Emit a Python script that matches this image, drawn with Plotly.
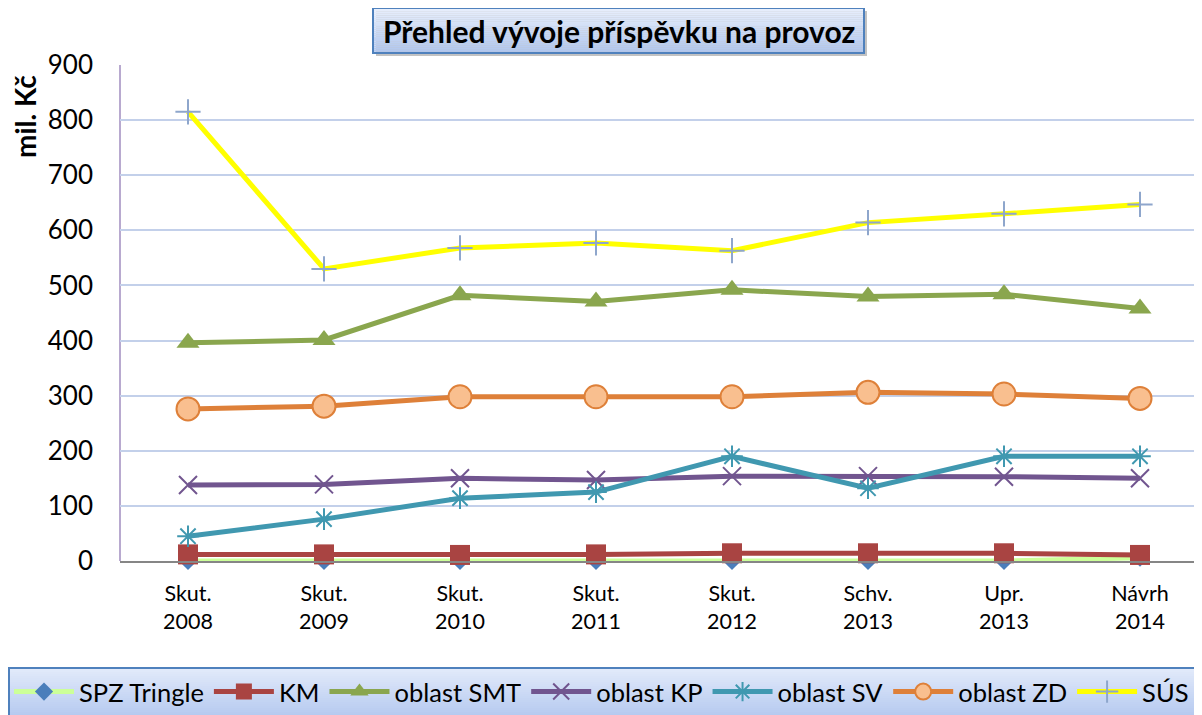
import plotly.graph_objects as go

categories = ["Skut.<br>2008", "Skut.<br>2009", "Skut.<br>2010", "Skut.<br>2011",
              "Skut.<br>2012", "Schv.<br>2013", "Upr.<br>2013", "Návrh<br>2014"]

spz_tringle = [0, 0, 0, 0, 0, 0, 0, 6]
km = [12, 12, 11, 12, 14, 14, 14, 11]
oblast_smt = [396, 401, 482, 471, 492, 480, 484, 458]
oblast_kp = [138, 139, 150, 147, 154, 154, 153, 150]
oblast_sv = [45, 76, 114, 125, 190, 132, 190, 190]
oblast_zd = [276, 281, 298, 298, 298, 306, 303, 295]
sus = [815, 530, 568, 577, 563, 614, 630, 647]

y_ticks = [0, 100, 200, 300, 400, 500, 600, 700, 800, 900]

FONT = "Lato"
OFF = 8  # page body margin offset
W, H = 1202 - OFF, 715 - OFF
L, R, T = 120 - OFF, 0, 65 - OFF
B = H - (561 - OFF)
PW, PH = W - L - R, H - T - B


def px2paper_x(px):
    return (px - OFF - L) / PW


def px2paper_y(py):
    return (H - B - (py - OFF)) / PH


xs = list(range(len(categories)))

fig = go.Figure()

series = [
    ("SPZ Tringle", spz_tringle, dict(color="#CCFF99", width=5),
     dict(symbol="diamond", size=14, color="#4A7EBB", line=dict(width=0))),
    ("KM", km, dict(color="#A94442", width=5),
     dict(symbol="square", size=20, color="#A94442", line=dict(width=0))),
    ("oblast SMT", oblast_smt, dict(color="#8AA64E", width=5),
     dict(symbol="triangle-up", size=20, color="#8AA64E", line=dict(width=0))),
    ("oblast KP", oblast_kp, dict(color="#71558F", width=5),
     dict(symbol="x-thin", size=18, color="#71558F", line=dict(width=2, color="#71558F"))),
    ("oblast SV", oblast_sv, dict(color="#4098B0", width=5),
     dict(symbol="asterisk", size=18, color="#4098B0", line=dict(width=2, color="#4098B0"))),
    ("oblast ZD", oblast_zd, dict(color="#DE8039", width=5),
     dict(symbol="circle", size=23, color="#F9BF8F", line=dict(width=2, color="#DE8039"))),
    ("SÚS", sus, dict(color="#FFFF00", width=5),
     dict(symbol="cross-thin", size=18, color="#8EA6CC", line=dict(width=2, color="#8EA6CC"))),
]

for name, vals, line, marker in series:
    fig.add_trace(go.Scatter(
        x=xs, y=vals, name=name, mode="lines+markers",
        line=line, marker=marker, cliponaxis=False,
    ))

shapes = []


def gradient_box(x0, y0, x1, y1, top_rgb, bot_rgb, n=24):
    out = []
    for i in range(n):
        t = i / (n - 1)
        c = tuple(int(round(top_rgb[k] + (bot_rgb[k] - top_rgb[k]) * t)) for k in range(3))
        ya = y0 + (y1 - y0) * i / n
        yb = y0 + (y1 - y0) * (i + 1) / n
        out.append(dict(type="rect", xref="paper", yref="paper", layer="below",
                        x0=px2paper_x(x0), x1=px2paper_x(x1),
                        y0=px2paper_y(ya), y1=px2paper_y(yb),
                        fillcolor="rgb(%d,%d,%d)" % c, line=dict(width=0)))
    return out


# title box shadow
shapes.append(dict(type="rect", xref="paper", yref="paper", layer="below",
                   x0=px2paper_x(376), x1=px2paper_x(867),
                   y0=px2paper_y(11), y1=px2paper_y(56),
                   fillcolor="rgba(120,120,120,0.45)", line=dict(width=0)))
shapes += gradient_box(373, 8, 864, 53, (232, 239, 252), (176, 198, 238))
shapes.append(dict(type="rect", xref="paper", yref="paper", layer="below",
                   x0=px2paper_x(373), x1=px2paper_x(864),
                   y0=px2paper_y(8), y1=px2paper_y(53),
                   fillcolor="rgba(0,0,0,0)", line=dict(width=2, color="#4F81BD")))

# legend box
shapes += gradient_box(8, 668, 1202, 716, (226, 234, 250), (182, 202, 240))
shapes.append(dict(type="rect", xref="paper", yref="paper", layer="below",
                   x0=px2paper_x(9), x1=px2paper_x(1210),
                   y0=px2paper_y(668), y1=px2paper_y(730),
                   fillcolor="rgba(0,0,0,0)", line=dict(width=2, color="#4F81BD")))

# left axis line (lavender)
shapes.append(dict(type="line", xref="paper", yref="paper", layer="below",
                   x0=0, x1=0, y0=0, y1=1, line=dict(width=2, color="#B8A9CF")))

annotations = [
    dict(text="<b>Přehled vývoje příspěvku na provoz</b>", xref="paper", yref="paper",
         x=px2paper_x(619), y=px2paper_y(31), xanchor="center", yanchor="middle",
         showarrow=False, font=dict(family=FONT, size=30, color="black")),
    dict(text="<b>mil. Kč</b>", xref="paper", yref="paper", textangle=-90,
         x=px2paper_x(25), y=px2paper_y(117), xanchor="center", yanchor="middle",
         showarrow=False, font=dict(family=FONT, size=28, color="black")),
]

fig.update_layout(
    width=W, height=H,
    margin=dict(l=L, r=R, t=T, b=B, autoexpand=False),
    paper_bgcolor="white", plot_bgcolor="white",
    font=dict(family=FONT, color="black"),
    shapes=shapes, annotations=annotations,
    showlegend=True,
    legend=dict(orientation="h", x=px2paper_x(9), xanchor="left",
                y=px2paper_y(692), yanchor="middle",
                bgcolor="rgba(0,0,0,0)", font=dict(family=FONT, size=25.5, color="black"),
                itemwidth=60, tracegroupgap=0),
    xaxis=dict(
        tickmode="array", tickvals=xs, ticktext=categories,
        range=[-0.5, PW / 136 - 0.5],
        showgrid=False, zeroline=False,
        showline=True, linecolor="#868686", linewidth=2,
        ticks="", tickfont=dict(family=FONT, size=21.5, color="black"),
        ticklabelstandoff=12,
    ),
    yaxis=dict(
        range=[0, 900], tickvals=y_ticks,
        showgrid=True, gridcolor="#C3D0EA", gridwidth=2,
        zeroline=False, showline=False, ticks="",
        tickfont=dict(family=FONT, size=26, color="black"),
        ticklabelstandoff=26,
    ),
)

fig.write_html("out.html")
